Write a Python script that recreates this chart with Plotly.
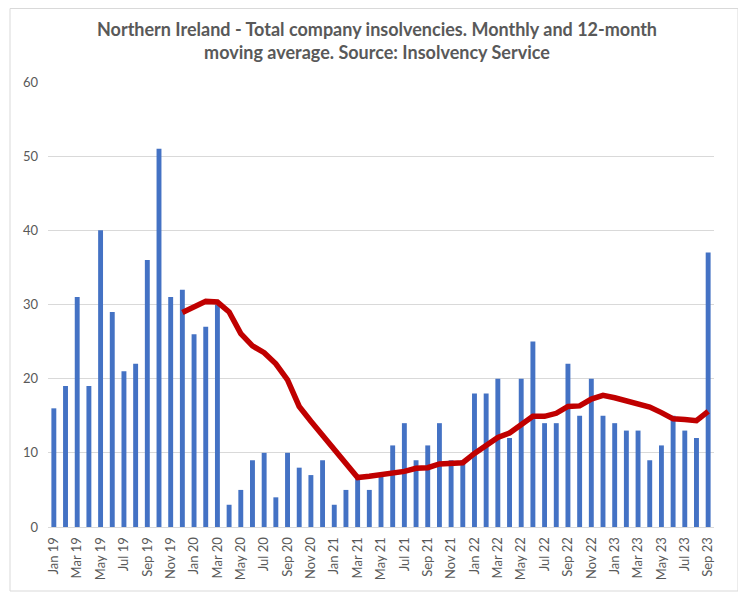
import plotly.graph_objects as go

# Monthly categories Jan 19 .. Sep 23
months = ["Jan", "Feb", "Mar", "Apr", "May", "Jun", "Jul", "Aug", "Sep", "Oct", "Nov", "Dec"]
categories = [f"{m} {y}" for y in ["19", "20", "21", "22", "23"] for m in months][:57]

# Total company insolvencies per month
monthly = [
    16, 19, 31, 19, 40, 29, 21, 22, 36, 51, 31, 32,
    26, 27, 30, 3, 5, 9, 10, 4, 10, 8, 7, 9,
    3, 5, 7, 5, 7, 11, 14, 9, 11, 14, 9, 9,
    18, 18, 20, 12, 20, 25, 14, 14, 22, 15, 20, 15,
    14, 13, 13, 9, 11, 15, 13, 12, 37,
]

# 12-month moving average (starts Dec 19)
moving_avg = [
    None, None, None, None, None, None, None, None, None, None, None, 28.92,
    29.75, 30.42, 30.33, 29.0, 26.08, 24.42, 23.5, 22.0, 19.83, 16.25, 14.25, 12.33,
    10.42, 8.58, 6.67, 6.83, 7.0, 7.17, 7.5, 7.92, 8.0, 8.5, 8.67, 8.67,
    9.92, 11.0, 12.08, 12.67, 13.75, 14.92, 14.92, 15.33, 16.25, 16.33, 17.25, 17.75,
    17.42, 17.0, 16.42, 16.17, 15.42, 14.58, 14.5, 14.33, 15.58,
]

y_ticks = [0, 10, 20, 30, 40, 50, 60]

# page has an 8px body margin, so the figure is drawn 8px smaller
W, H = 738, 591
ml, mr, mt, mb = 40, 32, 74, 72

fig = go.Figure()
fig.add_trace(go.Bar(
    x=categories, y=monthly,
    marker=dict(color="#4472C4", line=dict(width=0)),
    width=0.42,
    name="Monthly",
))
fig.add_trace(go.Scatter(
    x=categories, y=moving_avg,
    mode="lines",
    line=dict(color="#C00000", width=5.5),
    name="12-month moving average",
))

pw, ph = W - ml - mr, H - mt - mb
fig.add_shape(
    type="rect", xref="paper", yref="paper",
    x0=(2 - ml) / pw, x1=(730 - ml) / pw,
    y0=-(583 - (H - mb)) / ph, y1=1 + (mt - 0.5) / ph,
    line=dict(color="#d9d9d9", width=1), fillcolor="rgba(0,0,0,0)",
    layer="below",
)

fig.update_layout(
    width=W, height=H,
    margin=dict(l=ml, r=mr, t=mt, b=mb),
    paper_bgcolor="white", plot_bgcolor="white",
    showlegend=False,
    title=dict(
        text="<b>Northern Ireland - Total company insolvencies. Monthly and 12-month<br>moving average. Source: Insolvency Service</b>",
        x=0.5, xanchor="center", y=1 - 28 / H, yanchor="top",
        font=dict(family="Lato", size=18, color="#595959"),
    ),
    font=dict(family="Lato", size=13, color="#595959"),
)
fig.update_xaxes(
    type="category",
    tickvals=categories[::2], ticktext=categories[::2],
    tickangle=-90,
    tickfont=dict(size=13, color="#595959"),
    showgrid=False,
    showline=True, linecolor="#d9d9d9", linewidth=1,
    ticks="", range=[-0.5, len(categories) - 0.5],
    ticklabelstandoff=4,
)
fig.update_yaxes(
    range=[0, 60], tickvals=y_ticks,
    showgrid=True, gridcolor="#d9d9d9", gridwidth=1,
    zeroline=False, showline=False, ticks="",
    tickfont=dict(size=13, color="#595959"),
    ticklabelstandoff=9,
)

fig.write_html("out.html")
